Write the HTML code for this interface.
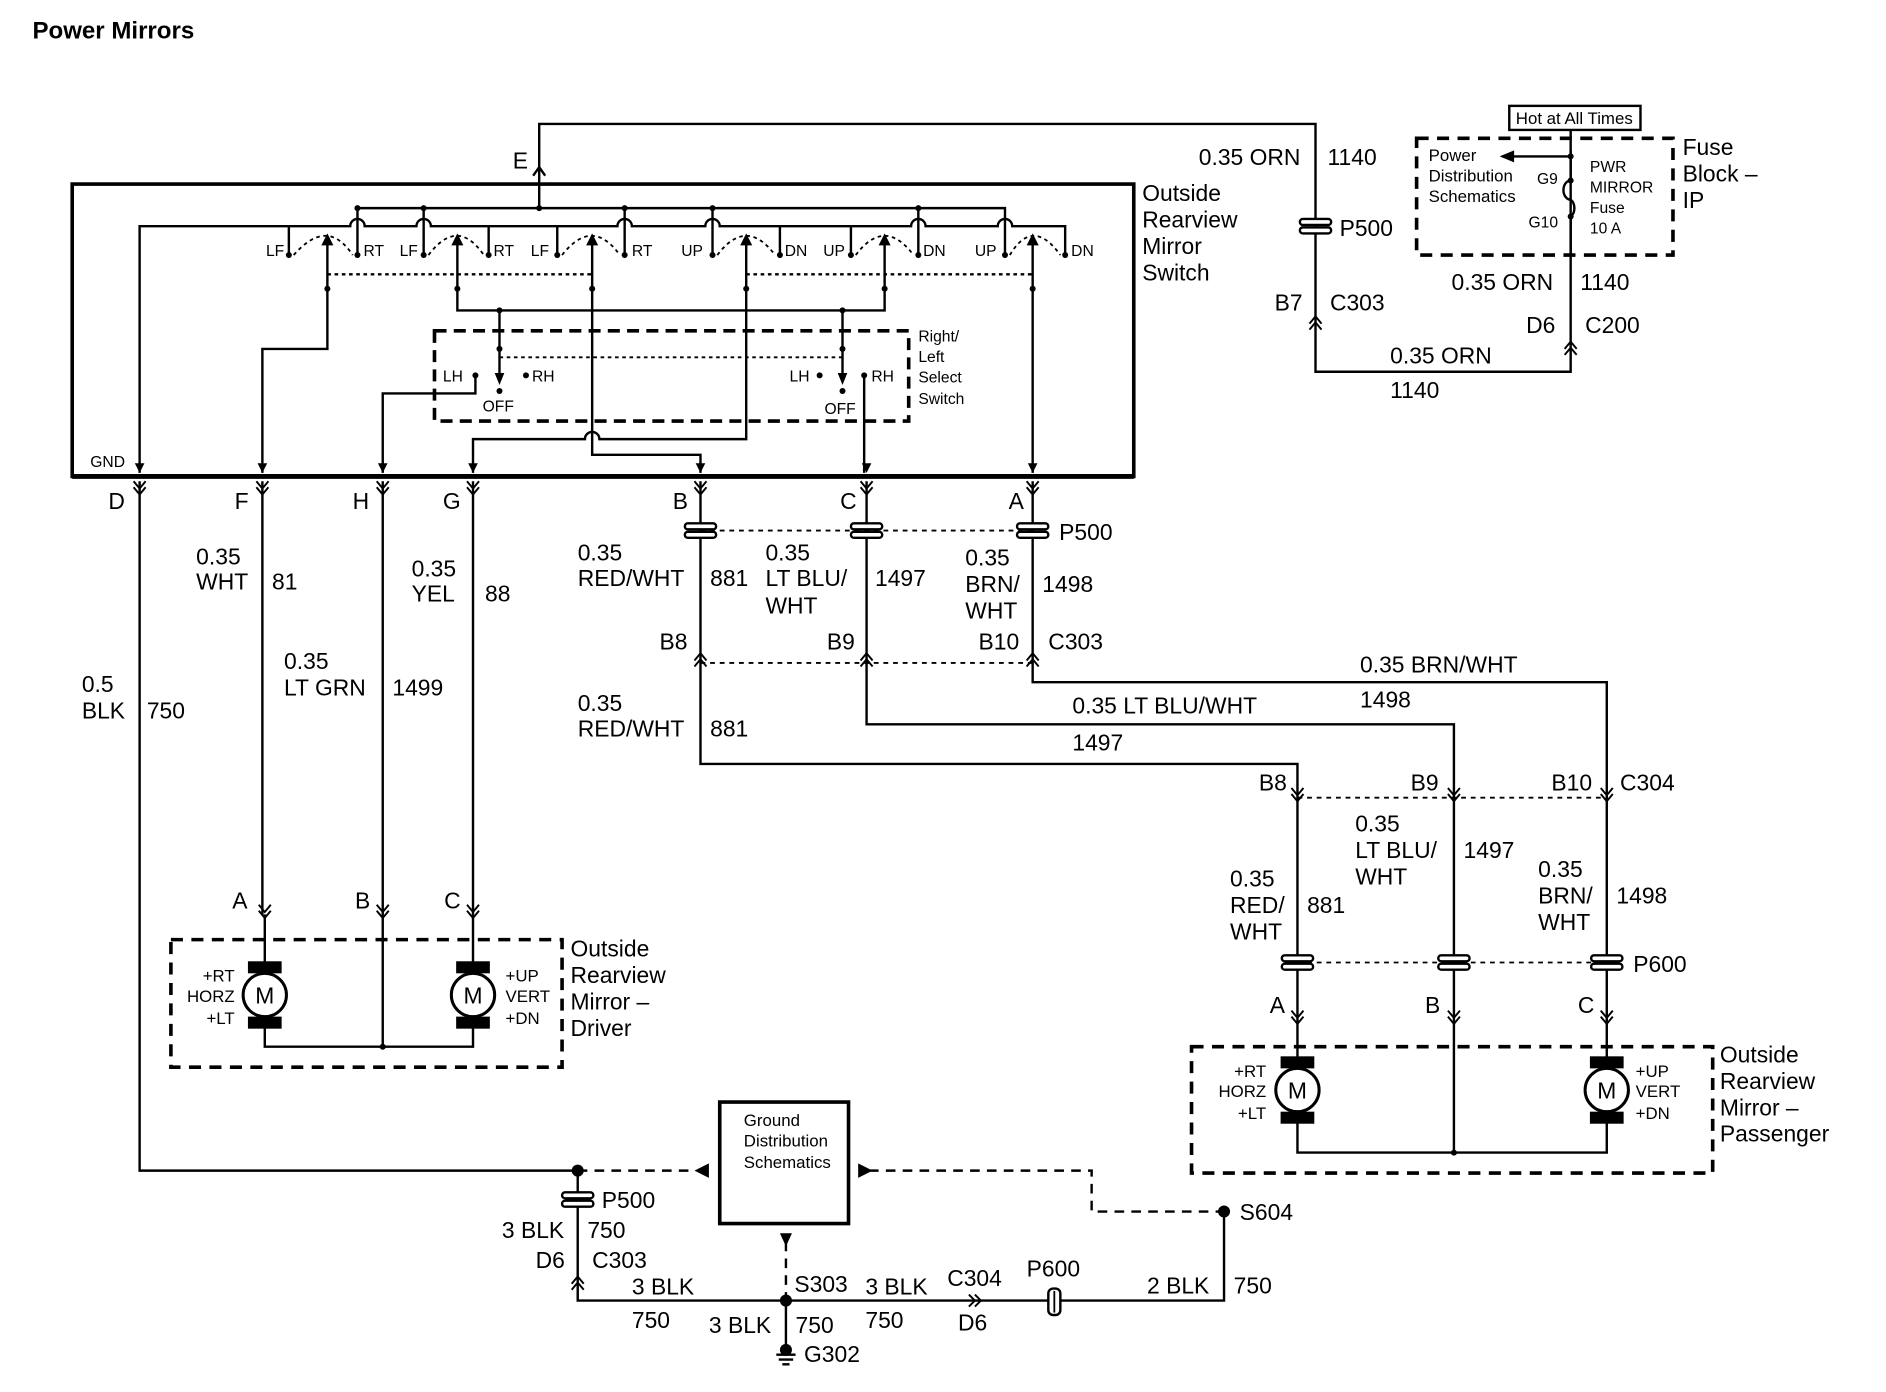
<!DOCTYPE html>
<html><head><meta charset="utf-8"><style>
html,body{margin:0;padding:0;background:#fff;}
svg{display:block;}
text{font-family:"Liberation Sans",Arial,sans-serif;fill:#000;}
.l{font-size:19px;}
.s{font-size:13px;}
.m{font-size:14px;}
</style></head><body>
<svg width="1886" height="1392" viewBox="0 0 1567 1157" preserveAspectRatio="none" xmlns="http://www.w3.org/2000/svg">
<defs>
<g id="pc"><rect x="-13" y="-6" width="26" height="5" rx="2.5" fill="#fff" stroke="#000" stroke-width="2"/><rect x="-13" y="1" width="26" height="5" rx="2.5" fill="#fff" stroke="#000" stroke-width="2"/></g>
<path id="dn" d="M-5,-8 L0,-2 L5,-8 M-5,-3 L0,3 L5,-3" fill="none" stroke="#000" stroke-width="1.6"/>
<path id="up" d="M-5,8 L0,2 L5,8 M-5,3 L0,-3 L5,3" fill="none" stroke="#000" stroke-width="1.6"/>
<g id="mot"><rect x="-14" y="-28" width="28" height="10" fill="#000"/><rect x="-14" y="18" width="28" height="10" fill="#000"/><circle r="18" fill="#fff" stroke="#000" stroke-width="2.5"/><text x="0" y="7" text-anchor="middle" style="font-size:19px">M</text></g>
</defs>

<text x="27" y="32" style="font-size:20px;font-weight:bold">Power Mirrors</text>

<g fill="none" stroke="#000" stroke-width="2">
<path d="M448,140 V103 H1093 V309 H1305 V125"/>
</g>
<path d="M443,146 L448,139 L453,146" fill="none" stroke="#000" stroke-width="2"/>
<text x="426" y="140" class="l">E</text>
<use href="#pc" x="1093" y="188"/>
<text x="1113" y="196" class="l">P500</text>
<text x="996" y="137" class="l">0.35 ORN</text><text x="1103" y="137" class="l">1140</text>
<text x="1059" y="258" class="l">B7</text><text x="1105" y="258" class="l">C303</text>
<use href="#up" x="1093" y="266"/>
<text x="1155" y="302" class="l">0.35 ORN</text><text x="1155" y="331" class="l">1140</text>
<text x="1206" y="241" class="l">0.35 ORN</text><text x="1313" y="241" class="l">1140</text>
<text x="1268" y="277" class="l">D6</text><text x="1317" y="277" class="l">C200</text>
<use href="#up" x="1305" y="287"/>

<rect x="1177" y="115" width="213" height="97" fill="none" stroke="#000" stroke-width="3" stroke-dasharray="10,7"/>
<rect x="1254" y="88" width="109" height="20" fill="#fff" stroke="#000" stroke-width="2"/>
<text x="1308" y="103" text-anchor="middle" class="m">Hot at All Times</text>
<g fill="none" stroke="#000" stroke-width="2">
<path d="M1305,108 V150 A6,8 0 0 0 1305,166 A6,8 0 0 1 1305,180 V212"/>
<path d="M1305,130 H1255"/>
</g>
<path d="M1246,130 L1258,125 L1258,135 Z"/>
<circle cx="1305" cy="130" r="2.5"/><circle cx="1305" cy="150" r="2.5"/><circle cx="1305" cy="180" r="2.5"/>
<text x="1187" y="134" class="m">Power</text><text x="1187" y="151" class="m">Distribution</text><text x="1187" y="168" class="m">Schematics</text>
<text x="1277" y="153" class="s">G9</text><text x="1270" y="189" class="s">G10</text>
<text x="1321" y="143" class="s">PWR</text><text x="1321" y="160" class="s">MIRROR</text><text x="1321" y="177" class="s">Fuse</text><text x="1321" y="194" class="s">10 A</text>
<text x="1398" y="129" class="l">Fuse</text><text x="1398" y="151" class="l">Block –</text><text x="1398" y="173" class="l">IP</text>

<rect x="60" y="153" width="882" height="243" fill="none" stroke="#000" stroke-width="3"/>
<line x1="60" y1="396" x2="942" y2="396" stroke="#000" stroke-width="4"/>
<text x="949" y="167" class="l">Outside</text><text x="949" y="189" class="l">Rearview</text><text x="949" y="211" class="l">Mirror</text><text x="949" y="233" class="l">Switch</text>
<text x="75" y="388" class="s">GND</text>

<g fill="none" stroke="#000" stroke-width="2">
<path d="M297,212 V173 H835 V212"/>
<path d="M352,173 V212 M448,173 V140 M519,173 V212 M592,173 V212 M763,173 V212"/>
<path d="M116,393 V188 H291 A6,6 0 0 1 303,188 H346 A6,6 0 0 1 358,188 H513 A6,6 0 0 1 525,188 H586 A6,6 0 0 1 598,188 H757 A6,6 0 0 1 769,188 H829 A6,6 0 0 1 841,188 H885 V212"/>
<path d="M240,188 V212 M406,188 V212 M463,188 V212 M648,188 V212 M707,188 V212"/>
<path d="M272,200 V290 H218 V393"/>
<path d="M380,200 V258 H735 V200"/>
<path d="M492,200 V378 H582 V393"/>
<path d="M620,200 V365 H498 A6,6 0 0 0 486,365 H393 V393"/>
<path d="M858,200 V393"/>
<path d="M415,258 V312 M700,258 V312"/>
<path d="M395,312 V327 H318 V393"/>
<path d="M718,312 V393"/>
</g>
<g fill="none" stroke="#000" stroke-width="1.5" stroke-dasharray="3,3">
<path d="M244,212 Q272,180 293,212"/><path d="M356,212 Q380,180 402,212"/><path d="M467,212 Q492,180 515,212"/>
<path d="M596,212 Q620,180 644,212"/><path d="M711,212 Q735,180 759,212"/><path d="M839,212 Q858,180 881,212"/>
<path d="M272,228 H492 M620,228 H858" stroke-width="2"/>
<path d="M415,297 H700"/>
</g>
<g>
<path d="M267,204 L272,194 L277,204 Z"/><path d="M375,204 L380,194 L385,204 Z"/><path d="M487,204 L492,194 L497,204 Z"/>
<path d="M615,204 L620,194 L625,204 Z"/><path d="M730,204 L735,194 L740,204 Z"/><path d="M853,204 L858,194 L863,204 Z"/>
<path d="M411,310 L415,320 L419,310 Z"/><path d="M696,310 L700,320 L704,310 Z"/>
<circle cx="240" cy="212" r="2.5"/><circle cx="297" cy="212" r="2.5"/><circle cx="352" cy="212" r="2.5"/><circle cx="406" cy="212" r="2.5"/>
<circle cx="463" cy="212" r="2.5"/><circle cx="519" cy="212" r="2.5"/><circle cx="592" cy="212" r="2.5"/><circle cx="648" cy="212" r="2.5"/>
<circle cx="707" cy="212" r="2.5"/><circle cx="763" cy="212" r="2.5"/><circle cx="835" cy="212" r="2.5"/><circle cx="885" cy="212" r="2.5"/>
<circle cx="297" cy="173" r="2.5"/><circle cx="352" cy="173" r="2.5"/><circle cx="448" cy="173" r="2.5"/><circle cx="519" cy="173" r="2.5"/><circle cx="592" cy="173" r="2.5"/><circle cx="763" cy="173" r="2.5"/>
<circle cx="272" cy="240" r="2.5"/><circle cx="380" cy="240" r="2.5"/><circle cx="492" cy="240" r="2.5"/><circle cx="620" cy="240" r="2.5"/><circle cx="735" cy="240" r="2.5"/><circle cx="858" cy="240" r="2.5"/>
<circle cx="415" cy="258" r="2.5"/><circle cx="700" cy="258" r="2.5"/>
<circle cx="415" cy="290" r="2.5"/><circle cx="700" cy="290" r="2.5"/>
<circle cx="395" cy="312" r="2.5"/><circle cx="437" cy="312" r="2.5"/><circle cx="415" cy="325" r="2.5"/>
<circle cx="681" cy="312" r="2.5"/><circle cx="718" cy="312" r="2.5"/><circle cx="700" cy="325" r="2.5"/>
<path d="M112,385 L116,393 L120,385 Z"/><path d="M214,385 L218,393 L222,385 Z"/><path d="M314,385 L318,393 L322,385 Z"/><path d="M389,385 L393,393 L397,385 Z"/>
<path d="M578,385 L582,393 L586,385 Z"/><path d="M716,385 L720,393 L724,385 Z"/><path d="M854,385 L858,393 L862,385 Z"/>
</g>
<g class="s">
<text x="221" y="213">LF</text><text x="302" y="213">RT</text><text x="332" y="213">LF</text><text x="410" y="213">RT</text><text x="441" y="213">LF</text><text x="525" y="213">RT</text>
<text x="566" y="213">UP</text><text x="652" y="213">DN</text><text x="684" y="213">UP</text><text x="767" y="213">DN</text><text x="810" y="213">UP</text><text x="890" y="213">DN</text>
<text x="368" y="317">LH</text><text x="442" y="317">RH</text><text x="401" y="342">OFF</text>
<text x="656" y="317">LH</text><text x="724" y="317">RH</text><text x="685" y="344">OFF</text>
<text x="763" y="284">Right/</text><text x="763" y="301">Left</text><text x="763" y="318">Select</text><text x="763" y="336">Switch</text>
</g>
<rect x="361" y="275" width="394" height="75" fill="none" stroke="#000" stroke-width="3" stroke-dasharray="10,6"/>

<g fill="none" stroke="#000" stroke-width="2">
<path d="M116,400 V973 H480 M480,973 V1081 H1017 V1007"/>
<path d="M218,400 V760 M318,400 V870 M393,400 V760"/>
<path d="M582,400 V635 H1078 V800 M720,400 V602 H1208 V958 M858,400 V567 H1335 V800"/>
<path d="M1078,800 V880 M1335,800 V880"/>
<path d="M220,760 V800 M393,760 V800"/>
<path d="M220,850 V870 H393 V850"/>
<path d="M1078,933 V958 H1335 V933"/>
<path d="M653,1081 V1118"/>
</g>
<use href="#dn" x="116" y="408"/><use href="#dn" x="218" y="408"/><use href="#dn" x="318" y="408"/><use href="#dn" x="393" y="408"/>
<use href="#dn" x="582" y="408"/><use href="#dn" x="720" y="408"/><use href="#dn" x="858" y="408"/>
<g class="l">
<text x="90" y="423">D</text><text x="195" y="423">F</text><text x="293" y="423">H</text><text x="368" y="423">G</text>
<text x="559" y="423">B</text><text x="698" y="423">C</text><text x="838" y="423">A</text>
</g>
<line x1="582" y1="441" x2="858" y2="441" stroke="#000" stroke-width="1.5" stroke-dasharray="4,4"/>
<use href="#pc" x="582" y="441"/><use href="#pc" x="720" y="441"/><use href="#pc" x="858" y="441"/>
<text x="880" y="449" class="l">P500</text>
<line x1="582" y1="551" x2="858" y2="551" stroke="#000" stroke-width="1.5" stroke-dasharray="4,4"/>
<use href="#up" x="582" y="546"/><use href="#up" x="720" y="546"/><use href="#up" x="858" y="546"/>
<g class="l">
<text x="548" y="540">B8</text><text x="687" y="540">B9</text><text x="813" y="540">B10</text><text x="871" y="540">C303</text>
<text x="163" y="469">0.35</text><text x="163" y="490">WHT</text><text x="226" y="490">81</text>
<text x="342" y="479">0.35</text><text x="342" y="500">YEL</text><text x="403" y="500">88</text>
<text x="236" y="556">0.35</text><text x="236" y="578">LT GRN</text><text x="326" y="578">1499</text>
<text x="68" y="575">0.5</text><text x="68" y="597">BLK</text><text x="122" y="597">750</text>
<text x="480" y="466">0.35</text><text x="480" y="487">RED/WHT</text><text x="590" y="487">881</text>
<text x="636" y="466">0.35</text><text x="636" y="487">LT BLU/</text><text x="636" y="510">WHT</text><text x="727" y="487">1497</text>
<text x="802" y="470">0.35</text><text x="802" y="492">BRN/</text><text x="802" y="514">WHT</text><text x="866" y="492">1498</text>
<text x="480" y="591">0.35</text><text x="480" y="612">RED/WHT</text><text x="590" y="612">881</text>
<text x="1130" y="559">0.35 BRN/WHT</text><text x="1130" y="588">1498</text>
<text x="891" y="593">0.35 LT BLU/WHT</text><text x="891" y="624">1497</text>
<text x="1046" y="657">B8</text><text x="1172" y="657">B9</text><text x="1289" y="657">B10</text><text x="1346" y="657">C304</text>
<text x="1126" y="691">0.35</text><text x="1126" y="713">LT BLU/</text><text x="1126" y="735">WHT</text><text x="1216" y="713">1497</text>
<text x="1022" y="737">0.35</text><text x="1022" y="759">RED/</text><text x="1022" y="781">WHT</text><text x="1086" y="759">881</text>
<text x="1278" y="729">0.35</text><text x="1278" y="751">BRN/</text><text x="1278" y="773">WHT</text><text x="1343" y="751">1498</text>
<text x="1357" y="808">P600</text>
<text x="1055" y="842">A</text><text x="1184" y="842">B</text><text x="1311" y="842">C</text>
<text x="193" y="755">A</text><text x="295" y="755">B</text><text x="369" y="755">C</text>
</g>
<line x1="1078" y1="663" x2="1335" y2="663" stroke="#000" stroke-width="1.5" stroke-dasharray="4,4"/>
<use href="#dn" x="1078" y="663"/><use href="#dn" x="1208" y="663"/><use href="#dn" x="1335" y="663"/>
<line x1="1078" y1="800" x2="1335" y2="800" stroke="#000" stroke-width="1.5" stroke-dasharray="4,4"/>
<use href="#pc" x="1078" y="800"/><use href="#pc" x="1208" y="800"/><use href="#pc" x="1335" y="800"/>
<use href="#dn" x="1078" y="848"/><use href="#dn" x="1208" y="848"/><use href="#dn" x="1335" y="848"/>
<use href="#dn" x="220" y="760"/><use href="#dn" x="318" y="760"/><use href="#dn" x="393" y="760"/>

<rect x="142" y="781" width="325" height="106" fill="none" stroke="#000" stroke-width="3" stroke-dasharray="10,7"/>
<use href="#mot" x="220" y="827"/><use href="#mot" x="393" y="827"/>
<circle cx="318" cy="870" r="2.5"/>
<g class="m"><text x="195" y="816" text-anchor="end">+RT</text><text x="195" y="833" text-anchor="end">HORZ</text><text x="195" y="851" text-anchor="end">+LT</text>
<text x="420" y="816">+UP</text><text x="420" y="833">VERT</text><text x="420" y="851">+DN</text></g>
<g class="l"><text x="474" y="795">Outside</text><text x="474" y="817">Rearview</text><text x="474" y="839">Mirror –</text><text x="474" y="861">Driver</text></g>

<rect x="990" y="870" width="433" height="105" fill="none" stroke="#000" stroke-width="3" stroke-dasharray="10,7"/>
<use href="#mot" x="1078" y="906"/><use href="#mot" x="1335" y="906"/>
<circle cx="1208" cy="958" r="2.5"/>
<g class="m"><text x="1052" y="895" text-anchor="end">+RT</text><text x="1052" y="912" text-anchor="end">HORZ</text><text x="1052" y="930" text-anchor="end">+LT</text>
<text x="1359" y="895">+UP</text><text x="1359" y="912">VERT</text><text x="1359" y="930">+DN</text></g>
<g class="l"><text x="1429" y="883">Outside</text><text x="1429" y="905">Rearview</text><text x="1429" y="927">Mirror –</text><text x="1429" y="949">Passenger</text></g>

<rect x="598" y="916" width="107" height="101" fill="none" stroke="#000" stroke-width="3"/>
<g class="m"><text x="618" y="936">Ground</text><text x="618" y="953">Distribution</text><text x="618" y="971">Schematics</text></g>
<g fill="none" stroke="#000" stroke-width="2" stroke-dasharray="8,6">
<path d="M480,973 H578"/>
<path d="M722,973 H907 V1007 H1017"/>
<path d="M653,1032 V1081"/>
</g>
<path d="M577,973 L589,967 L589,979 Z"/><path d="M725,973 L713,967 L713,979 Z"/><path d="M648,1025 L653,1036 L658,1025 Z"/>
<circle cx="480" cy="973" r="5"/><circle cx="1017" cy="1007" r="5"/><circle cx="653" cy="1081" r="5"/>
<use href="#pc" x="480" y="997"/>
<use href="#up" x="480" y="1064"/>
<path d="M805,1076 L810,1081 L805,1086 M810,1076 L815,1081 L810,1086" fill="none" stroke="#000" stroke-width="1.6"/>
<rect x="871" y="1071" width="10" height="22" rx="4" fill="#fff" stroke="#000" stroke-width="2"/>
<line x1="876" y1="1073" x2="876" y2="1091" stroke="#000" stroke-width="1.5"/>
<circle cx="653" cy="1122" r="5"/>
<path d="M645,1126 H661 M647,1130 H659 M650,1134 H656" stroke="#000" stroke-width="2"/>
<g class="l">
<text x="500" y="1004">P500</text>
<text x="417" y="1029">3 BLK</text><text x="488" y="1029">750</text>
<text x="445" y="1054">D6</text><text x="492" y="1054">C303</text>
<text x="525" y="1076">3 BLK</text><text x="525" y="1104">750</text>
<text x="660" y="1074">S303</text>
<text x="589" y="1108">3 BLK</text><text x="661" y="1108">750</text>
<text x="719" y="1076">3 BLK</text><text x="719" y="1104">750</text>
<text x="787" y="1069">C304</text><text x="796" y="1106">D6</text>
<text x="853" y="1061">P600</text>
<text x="953" y="1075">2 BLK</text><text x="1025" y="1075">750</text>
<text x="1030" y="1014">S604</text>
<text x="668" y="1132">G302</text>
</g>
</svg>
</body></html>
